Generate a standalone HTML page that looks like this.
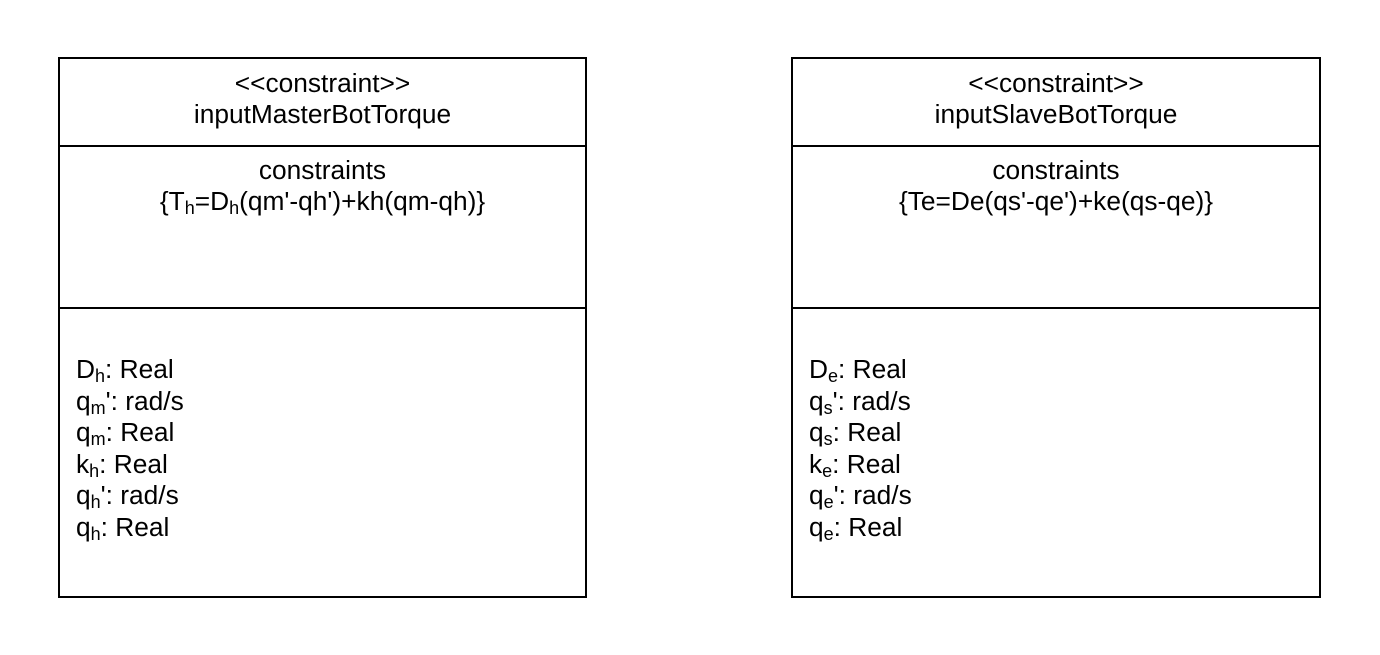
<!DOCTYPE html>
<html><head><style>
body{margin:0;width:1380px;height:655px;background:#fff;position:relative;font-family:"Liberation Sans",sans-serif;font-size:26.3px;color:#000;overflow:hidden}
.box{position:absolute;top:57px;width:525px;height:537px;border:2px solid #000}
.hl{position:absolute;left:0;right:0;height:0;border-top:2px solid #000}
.c{position:absolute;left:0;right:0;text-align:center;line-height:31px}
.a{position:absolute;left:16px;top:353px;line-height:31.6px}
sub{font-size:18px;vertical-align:-4px;line-height:0}
</style></head><body>
<div class="box" style="left:58px">
<div class="hl" style="top:86px"></div>
<div class="hl" style="top:248px"></div>
<div class="c" style="top:9px">&lt;&lt;constraint&gt;&gt;<br>inputMasterBotTorque</div>
<div class="c" style="top:96px">constraints<br>{T<sub>h</sub>=D<sub>h</sub>(qm'-qh')+kh(qm-qh)}</div>
<div class="a" style="top:295px">D<sub>h</sub>: Real<br>q<sub>m</sub>': rad/s<br>q<sub>m</sub>: Real<br>k<sub>h</sub>: Real<br>q<sub>h</sub>': rad/s<br>q<sub>h</sub>: Real</div>
</div>
<div class="box" style="left:791px;width:526px">
<div class="hl" style="top:86px"></div>
<div class="hl" style="top:248px"></div>
<div class="c" style="top:9px">&lt;&lt;constraint&gt;&gt;<br>inputSlaveBotTorque</div>
<div class="c" style="top:96px">constraints<br>{Te=De(qs'-qe')+ke(qs-qe)}</div>
<div class="a" style="top:295px">D<sub>e</sub>: Real<br>q<sub>s</sub>': rad/s<br>q<sub>s</sub>: Real<br>k<sub>e</sub>: Real<br>q<sub>e</sub>': rad/s<br>q<sub>e</sub>: Real</div>
</div>
</body></html>
